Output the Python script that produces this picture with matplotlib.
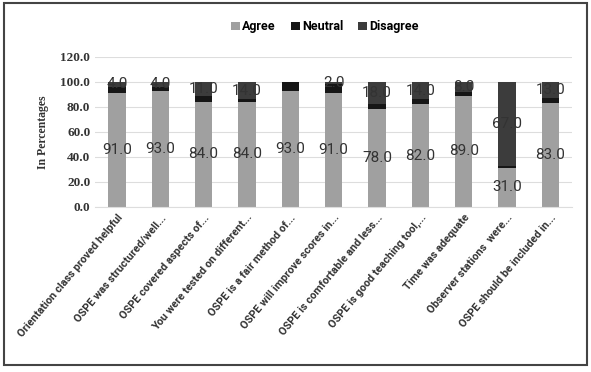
import numpy as np
import matplotlib
matplotlib.use('Agg')
import matplotlib.pyplot as plt
from matplotlib.patches import Rectangle

categories = ['Orientation class proved helpful', 'OSPE was structured/well...',
              'OSPE covered aspects of...', 'You were tested on different...',
              'OSPE is a fair method of...', 'OSPE will improve scores in...',
              'OSPE is comfortable and less...', 'OSPE is good teaching tool,...',
              'Time was adequate', 'Observer stations  were...',
              'OSPE should be included in...']
agree = [91, 93, 84, 84, 93, 91, 78, 82, 89, 31, 83]
neutral = [5, 3, 5, 2, 7, 7, 4, 4, 3, 2, 4]
disagree = [4, 4, 11, 14, 0, 2, 18, 14, 8, 67, 13]

plt.rcParams['font.family'] = ['Roboto', 'DejaVu Sans']

fig = plt.figure(figsize=(5.91, 3.72), dpi=100)
ax = fig.add_axes([0.161, 0.444, 0.807, 0.403])
x = np.arange(len(categories))
w = 0.4

b1 = ax.bar(x, agree, w, color='#a0a0a0', label='Agree', zorder=2)
b2 = ax.bar(x, neutral, w, bottom=agree, color='#161616', label='Neutral', zorder=2)
bot = np.array(agree) + np.array(neutral)
b3 = ax.bar(x, disagree, w, bottom=bot, color='#3c3c3c', label='Disagree', zorder=2)

for i in range(len(x)):
    ax.text(x[i], agree[i] / 2, f'{agree[i]:.1f}',
            ha='center', va='center', fontsize=11, color='#333333', zorder=3)
    if disagree[i] > 0:
        ax.text(x[i], bot[i] + disagree[i] / 2, f'{disagree[i]:.1f}',
                ha='center', va='center', fontsize=11, color='#333333', zorder=3)

ax.set_ylim(0, 120)
ax.set_xlim(-0.5, len(x) - 0.5)
ax.set_yticks(np.arange(0, 121, 20))
ax.set_yticklabels([f'{v:.1f}' for v in np.arange(0, 121, 20)], fontsize=9.5,
                   fontweight='bold', color='#333333', family='Liberation Serif')
ax.yaxis.grid(True, color='#dddddd', linewidth=0.8, zorder=0)
ax.set_axisbelow(True)
for s in ['top', 'right', 'left']:
    ax.spines[s].set_visible(False)
ax.spines['bottom'].set_color('#dddddd')
ax.tick_params(axis='both', length=0)
ax.tick_params(axis='x', pad=4)
ax.set_xticks(x)
ax.set_xticklabels(categories, rotation=50, ha='right', rotation_mode='anchor',
                   fontsize=7.8, fontweight='bold', color='#333333')
ax.set_ylabel('In Percentages', fontsize=8.5, fontweight='bold', color='#333333',
              labelpad=8, family='Liberation Serif')

fig.legend(handles=[b1, b2, b3], loc='center', bbox_to_anchor=(0.55, 0.928), ncol=3,
           frameon=False, handlelength=0.7, handleheight=0.7,
           handletextpad=0.2, columnspacing=1.2, prop={'weight': 'bold', 'size': 9})

fig.patches.append(Rectangle((0.006, 0.018), 0.988, 0.975, transform=fig.transFigure,
                             fill=False, edgecolor='#444444', linewidth=1.5))
fig.savefig('out.png', dpi=100)
